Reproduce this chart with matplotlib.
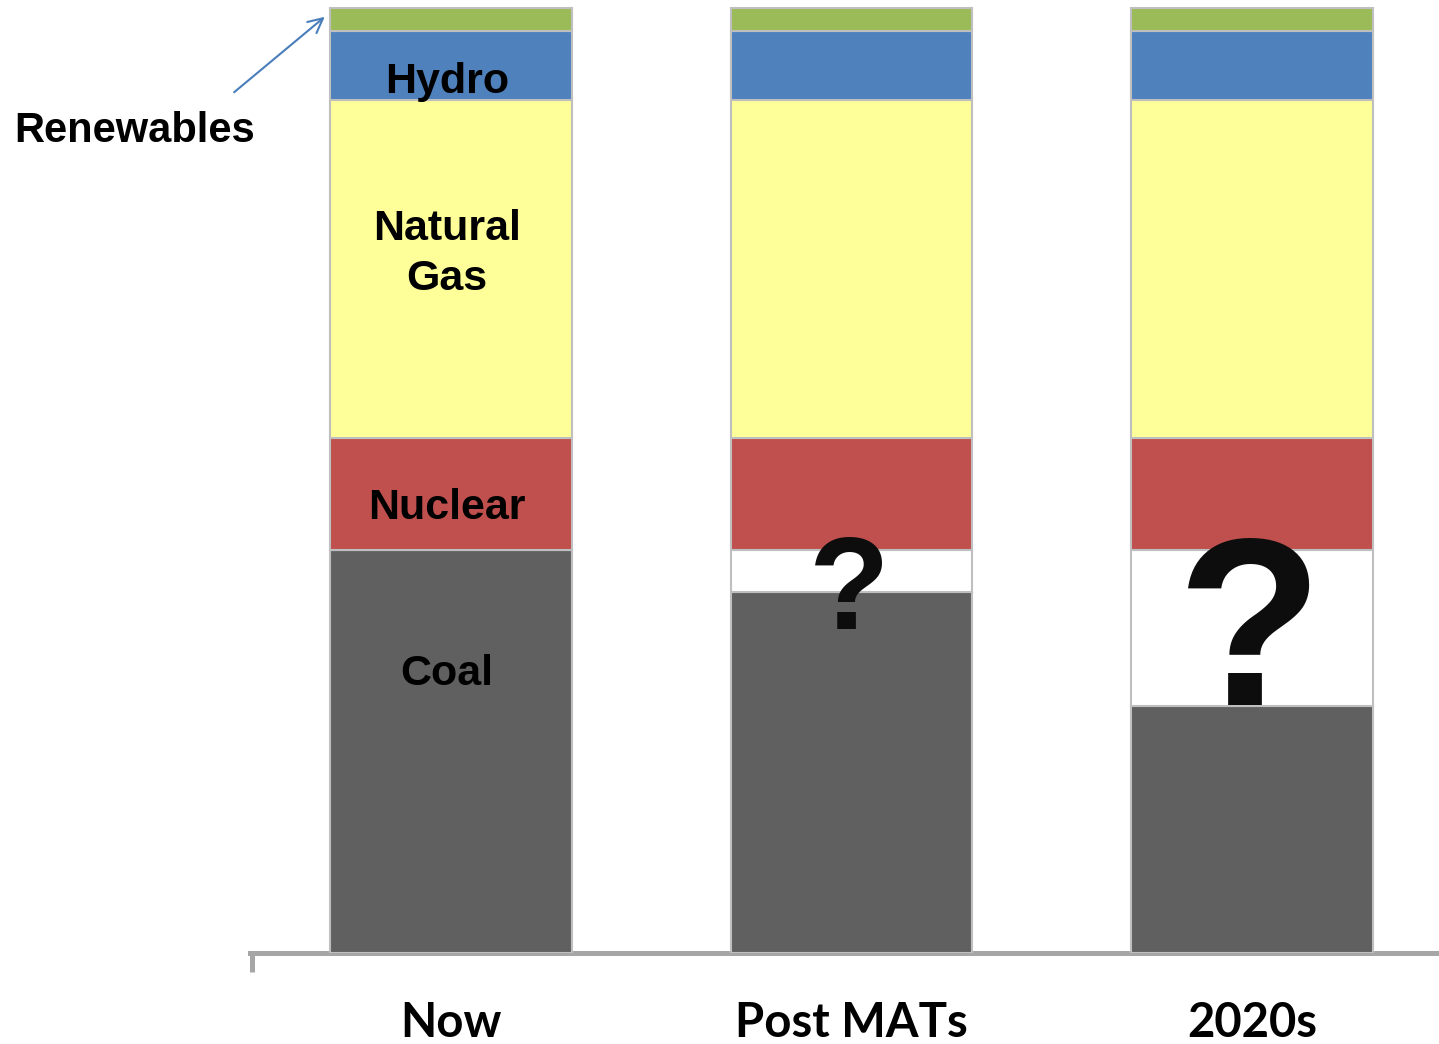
import matplotlib.pyplot as plt
import numpy as np

# columns and stacked shares (% of generation)
scenarios = ['Now', 'Post MATs', '2020s']
coal = [42.6, 38.2, 26.1]
unknown = [0.0, 4.4, 16.5]   # the "?" gap
nuclear = [11.8, 11.8, 11.8]
gas = [35.8, 35.8, 35.8]
hydro = [7.3, 7.3, 7.3]
renewables = [2.4, 2.4, 2.4]

layers = [
    ('Coal', coal, '#606060'),
    ('?', unknown, '#ffffff'),
    ('Nuclear', nuclear, '#c0504d'),
    ('Natural Gas', gas, '#ffff99'),
    ('Hydro', hydro, '#4f81bd'),
    ('Renewables', renewables, '#9bbb59'),
]

fig = plt.figure(figsize=(14.39, 10.44), dpi=100)
ax = fig.add_axes([250 / 1439, 91 / 1044, 1 - 250 / 1439, 953 / 1044])

x = np.arange(len(scenarios))
bottom = np.zeros(len(scenarios))
for name, vals, col in layers:
    ax.bar(x, vals, width=0.604, bottom=bottom, color=col,
           edgecolor='#bfbfbf', linewidth=1.5, zorder=3)
    bottom += np.array(vals)

ax.set_xlim(-0.502, 2.467)
ax.set_ylim(0, 100.74)

# labels inside the first column (baseline positions)
lab = dict(ha='center', va='baseline', fontsize=31, fontweight='bold',
           family='Liberation Sans', color='black', zorder=5)
ax.text(-0.01, 28.3, 'Coal', **lab)
ax.text(-0.01, 45.9, 'Nuclear', **lab)
ax.text(-0.01, 75.4, 'Natural', **lab)
ax.text(-0.01, 70.1, 'Gas', **lab)
ax.text(-0.01, 90.9, 'Hydro', **lab)

# renewables callout
ax.text(-0.791, 85.7, 'Renewables', ha='center', va='baseline', fontsize=30,
        fontweight='bold', family='Liberation Sans', clip_on=False)
ax.annotate('', xy=(-0.31, 99.15), xytext=(-0.547, 90.8),
            arrowprops=dict(arrowstyle='->', color='#4a7ebb', lw=1.5,
                            mutation_scale=26),
            annotation_clip=False)

# question marks over the gaps
q_bottom = [None, 34.25, coal[2] + 0.1]
q_size = [None, 95, 172]
for i in (1, 2):
    ax.text(x[i] - 0.005, q_bottom[i], '?', ha='center', va='baseline',
            fontsize=q_size[i], fontweight='bold', family='Liberation Sans',
            color='#0d0d0d', zorder=6)

# axis styling
for s in ['top', 'right', 'left']:
    ax.spines[s].set_visible(False)
ax.spines['bottom'].set_color('#a6a6a6')
ax.spines['bottom'].set_linewidth(3.6)
ax.plot([-0.497, -0.497], [0, -2.0], color='#a6a6a6', lw=3.6,
        clip_on=False, solid_capstyle='butt')

ax.set_yticks([])
ax.set_xticks(x)
ax.set_xticklabels([])
ax.tick_params(axis='x', length=0)
for xi, name in zip(x, scenarios):
    ax.text(xi, -8.9, name, ha='center', va='baseline', fontsize=34,
            fontweight='bold', family='Lato', clip_on=False)

fig.savefig('out.png', dpi=100)
